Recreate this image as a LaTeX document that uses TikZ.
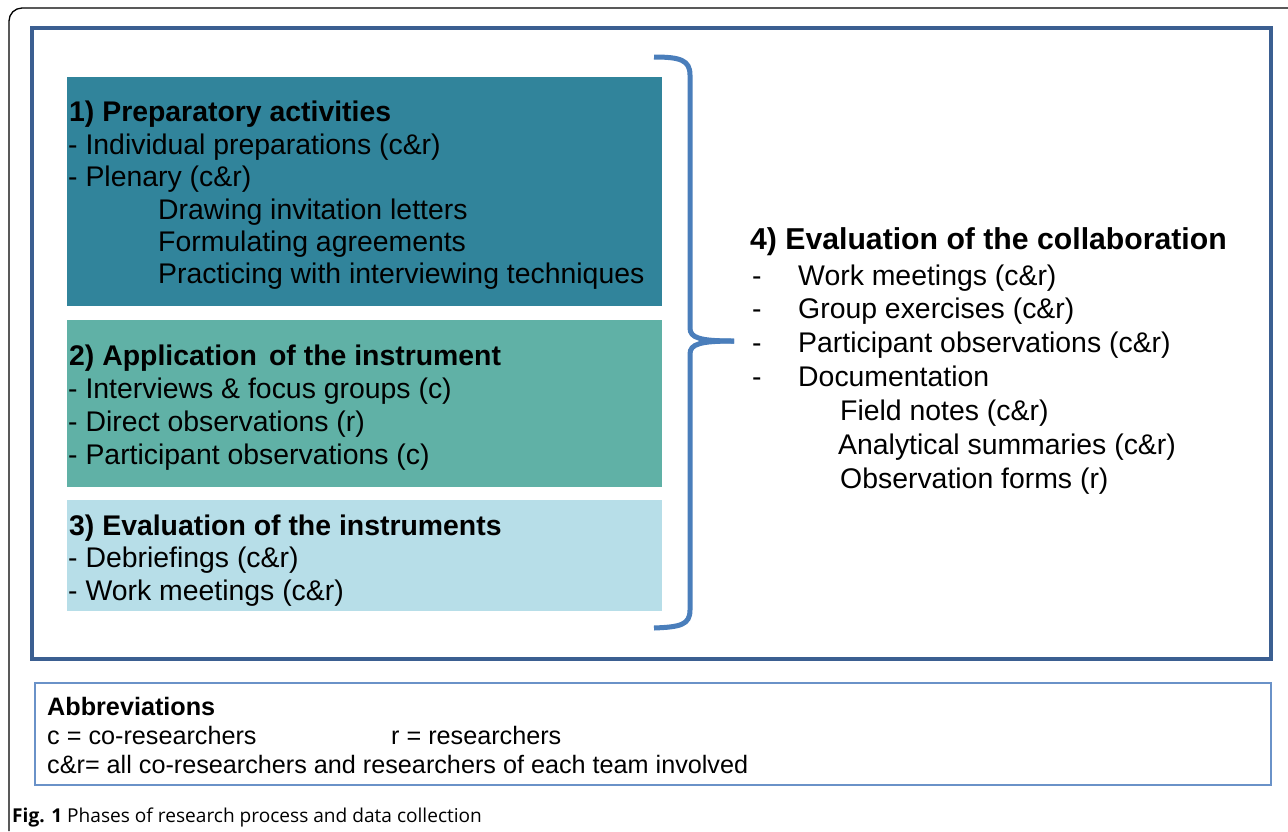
\documentclass[tikz,border=0pt]{standalone}
\usepackage{fontspec}
\setmainfont{Liberation Sans}
\newfontfamily\capfont{Open Sans}
\definecolor{boxA}{HTML}{31849B}
\definecolor{boxB}{HTML}{60B1A6}
\definecolor{boxC}{HTML}{B7DEE8}
\definecolor{frameblue}{HTML}{3B5F91}
\definecolor{braceblue}{HTML}{4A7EBB}
\definecolor{abbrblue}{HTML}{6A92C8}
\tikzset{
  body/.style={anchor=base west, inner sep=0pt, font=\fontsize{28.4}{32}\selectfont},
  head/.style={anchor=base west, inner sep=0pt, font=\fontsize{28.4}{32}\selectfont\bfseries},
  abbr/.style={anchor=base west, inner sep=0pt, font=\fontsize{25.2}{28}\selectfont},
  phase/.style={draw=none, anchor=north west, inner sep=0pt},
}
\begin{document}
\begin{tikzpicture}[x=1pt,y=-1pt]
\useasboundingbox (0,0) rectangle (1288,831);
\fill[white] (0,0) rectangle (1288,831);
% outer frame
\draw[line width=1.3pt, rounded corners=13pt] (9,831) -- (9,8) -- (1288,8);
% blue frame
\draw[frameblue, line width=4pt] (32,28) rectangle (1271,659);
% phase boxes
\fill[boxA] (67,77) rectangle (662,306);
\fill[boxB] (67,320) rectangle (662,487);
\fill[boxC] (67,500) rectangle (662,611);
\node[phase, minimum width=595pt, minimum height=229pt] (p1) at (67,77) {};
\node[phase, minimum width=595pt, minimum height=167pt] (p2) at (67,320) {};
\node[phase, minimum width=595pt, minimum height=111pt] (p3) at (67,500) {};
% box 1 text
\node[head] (h1) at (69,121) {1) Preparatory activities};
\node[body] (a1) at (68,154) {- Individual preparations (c\&r)};
\node[body] (a2) at (68,186) {- Plenary (c\&r)};
\node[body] (a3) at (158,219) {Drawing invitation letters};
\node[body] (a4) at (158,251) {Formulating agreements};
\node[body] (a5) at (158,283) {Practicing with interviewing techniques};
% box 2 text
\node[head] (h2) at (69,365) {2) Application\hspace{0.15em} of the instrument};
\node[body] (b1) at (68,398) {- Interviews \& focus groups (c)};
\node[body] (b2) at (68,431) {- Direct observations (r)};
\node[body] (b3) at (68,464) {- Participant observations (c)};
% box 3 text
\node[head] (h3) at (69,535) {3) Evaluation of the instruments};
\node[body] (c1) at (68,567) {- Debriefings (c\&r)};
\node[body] (c2) at (68,600) {- Work meetings (c\&r)};
% brace
\draw[braceblue, line width=5pt, line cap=butt]
  (654,57) .. controls (680,57) and (690,60) .. (690,75)
  -- (690,328) .. controls (690,338) and (700,341) .. (734,341);
\draw[braceblue, line width=5pt, line cap=butt]
  (734,341) .. controls (700,341) and (690,344) .. (690,354)
  -- (690,610) .. controls (690,625) and (680,627) .. (654,628);
\coordinate (tip) at (734,341);
% right text
\node[head, font=\fontsize{30.2}{32}\selectfont\bfseries] (h4) at (750,249) {4) Evaluation of the collaboration};
\foreach \y/\t [count=\i] in {285/Work meetings (c\&r), 318/Group exercises (c\&r), 352/Participant observations (c\&r), 386/Documentation}{
  \node[body] (d\i) at (752,\y) {-};
  \node[body] (e\i) at (798,\y) {\t};
}
\node[body] (f1) at (840,420) {Field notes (c\&r)};
\node[body] (f2) at (838,454) {Analytical summaries (c\&r)};
\node[body] (f3) at (840,488) {Observation forms (r)};
% abbreviations
\draw[abbrblue, line width=2pt] (35,683) rectangle (1271,785);
\node[abbr, font=\fontsize{25.2}{28}\selectfont\bfseries] (ab) at (47,715) {Abbreviations};
\node[abbr] (ab1) at (47,744) {c = co-researchers};
\node[abbr] (ab2) at (391,744) {r = researchers};
\node[abbr] (ab3) at (47,773) {c\&r= all co-researchers and researchers of each team involved};
% caption
\node[anchor=base west, inner sep=0pt, font=\capfont\fontsize{19.1}{24}\selectfont] (cap) at (12,822) {\textbf{Fig. 1} Phases of research process and data collection};
\end{tikzpicture}
\end{document}
